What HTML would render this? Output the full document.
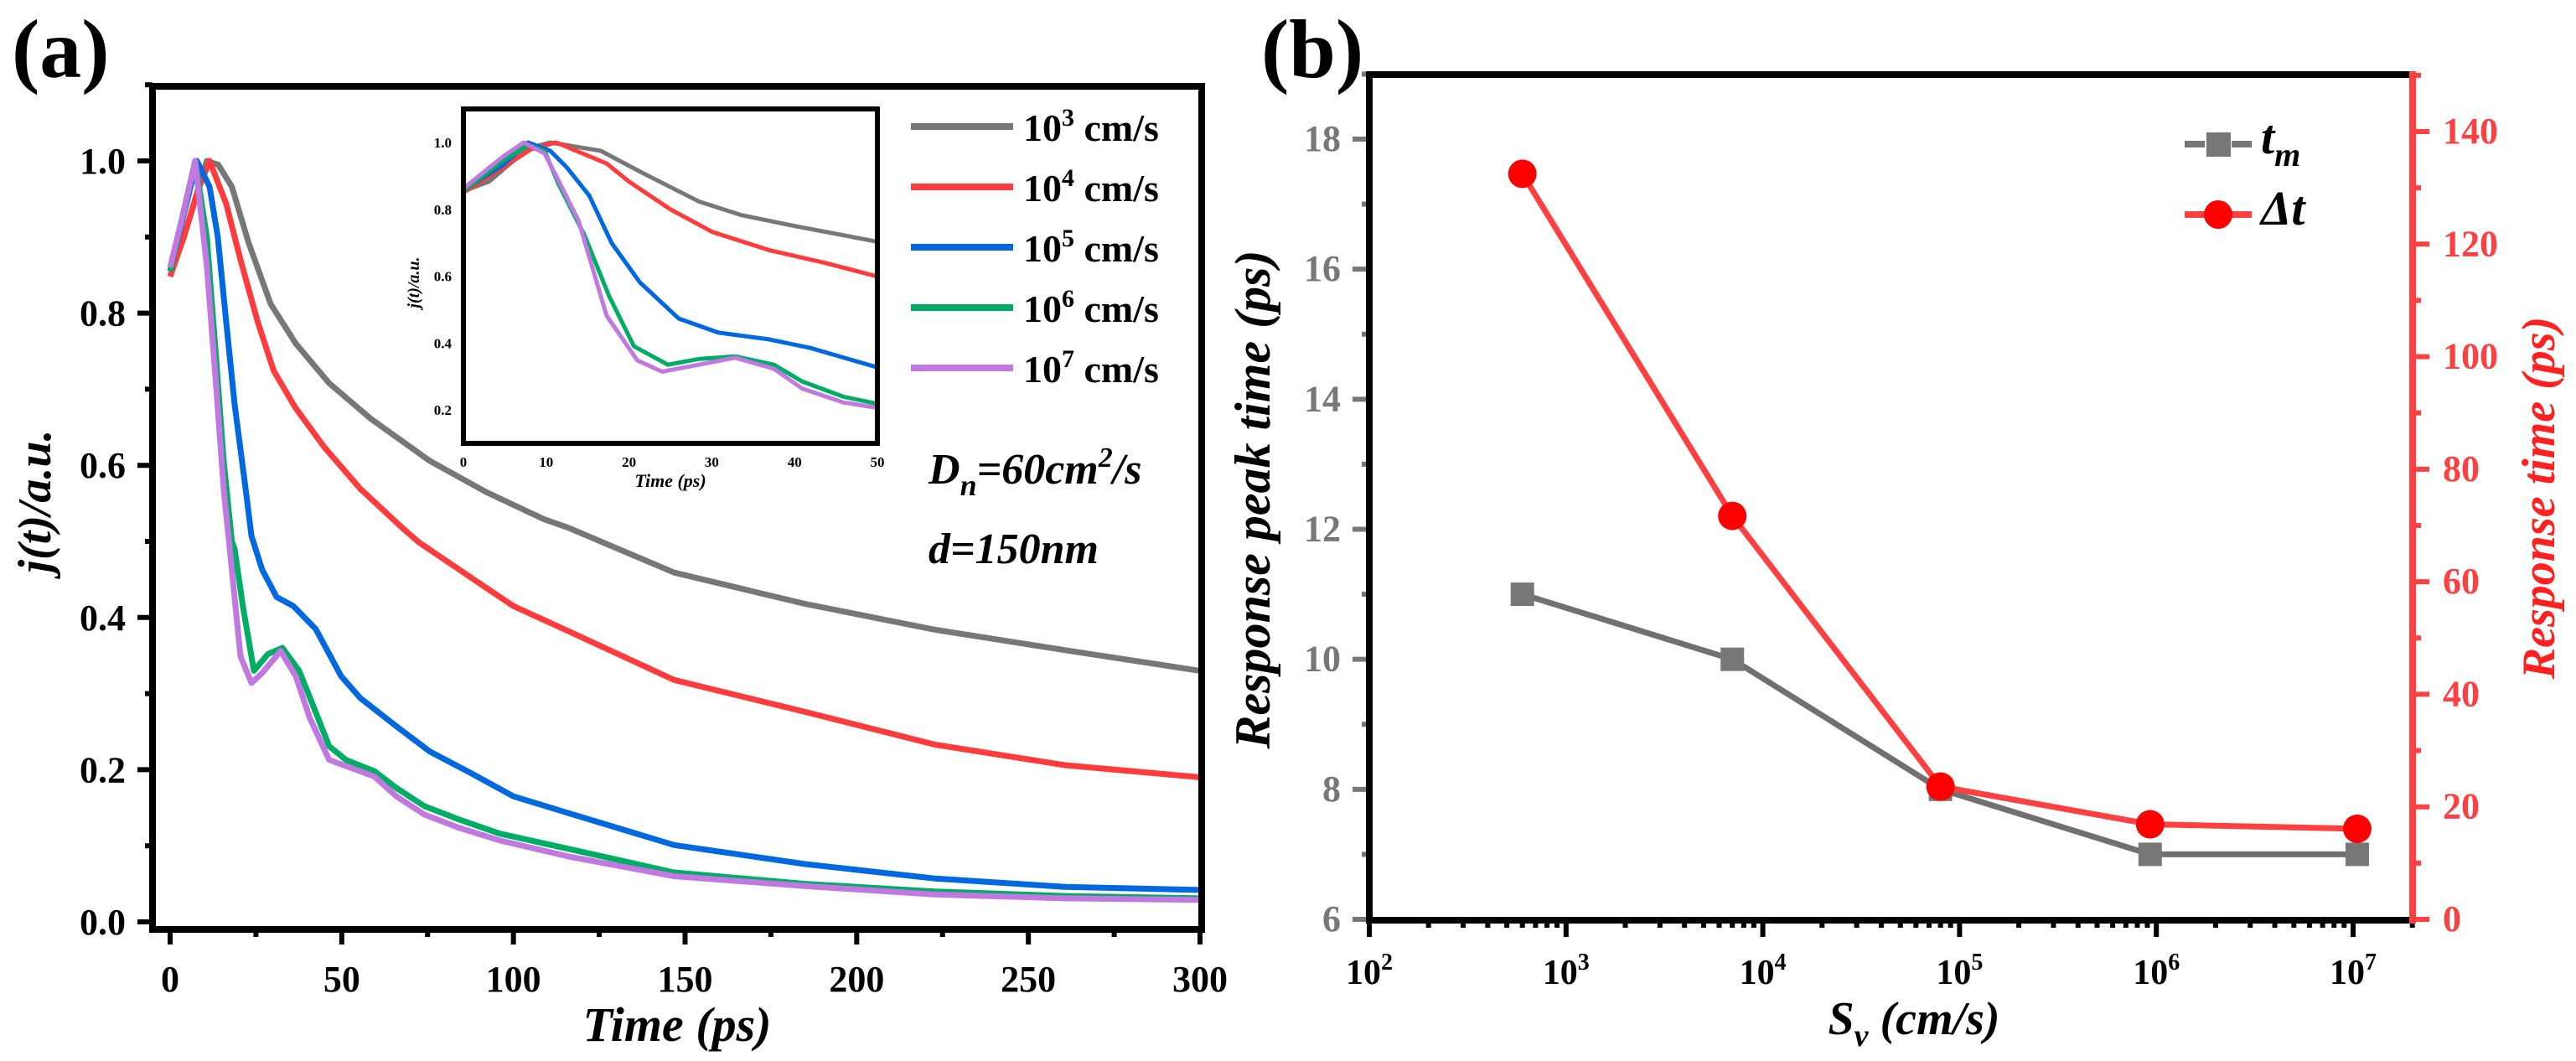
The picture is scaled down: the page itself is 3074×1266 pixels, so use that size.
<!DOCTYPE html>
<html><head><meta charset="utf-8"><style>
html,body{margin:0;padding:0;background:#fff;width:3074px;height:1266px;overflow:hidden}
svg{display:block}
text{font-family:"Liberation Serif","Times New Roman","DejaVu Serif",serif;font-weight:bold}
</style></head><body>
<svg id="fig" width="3074" height="1266" viewBox="0 0 3074 1266" xmlns="http://www.w3.org/2000/svg"></svg>
<script>
// ---------- Panel (a) data ----------
const seriesNames = ["3","4","5","6","7"];
const seriesColors = ["#777777","#ff3b3b","#0068e0","#00ad65","#c178e0"];
const grayT = [0,4,8,10.7,14,18,22.9,29.3,36.6,46.3,58.5,75.6,92,109,116,146.8,184.9,222.7,260.7,300];
const grayV = [0.86,0.9,0.96,1.0,0.995,0.966,0.892,0.812,0.76,0.708,0.661,0.606,0.565,0.529,0.518,0.459,0.418,0.384,0.357,0.33];
const redT = [0,4,8,11.5,16.3,20.5,25.4,30.2,36.6,44.9,55.4,67.6,72.4,87.8,100,116,146.8,184.9,222.7,260.7,300];
const redV = [0.848,0.9,0.96,1.0,0.944,0.87,0.79,0.724,0.675,0.624,0.569,0.518,0.499,0.452,0.415,0.382,0.318,0.276,0.233,0.206,0.19];
const blueT = [0,4,7.8,11.5,13.9,16.3,18.8,22,23.7,26.8,31,35.9,42.4,49.8,55.4,65.9,75.6,87.8,100,116,146.8,184.9,222.7,260.7,300];
const blueV = [0.855,0.93,1.0,0.966,0.9,0.79,0.68,0.569,0.507,0.463,0.427,0.415,0.385,0.323,0.294,0.257,0.224,0.195,0.165,0.143,0.101,0.076,0.057,0.046,0.042];
const greenT = [0,4,7.3,10.7,13.2,15.6,18,18.8,21.2,24.4,28.5,32.7,37.6,41.5,46.3,51.2,59.5,65.9,74.1,83.9,96,116,146.8,184.9,222.7,260.7,300];
const greenV = [0.855,0.935,1.0,0.9,0.752,0.606,0.5,0.49,0.415,0.33,0.352,0.36,0.33,0.286,0.231,0.213,0.198,0.176,0.152,0.135,0.116,0.096,0.065,0.05,0.04,0.034,0.031];
const purpleT = [0,4.1,7.3,10.7,13.2,15.6,17,20.5,23.7,26.8,32.2,36.6,40.7,46.3,52.9,59.5,65.9,74.1,83.9,96,116,146.8,184.9,222.7,260.7,300];
const purpleV = [0.86,0.936,1.0,0.862,0.716,0.569,0.507,0.349,0.314,0.327,0.356,0.323,0.268,0.213,0.202,0.191,0.165,0.141,0.124,0.107,0.086,0.06,0.047,0.036,0.031,0.029];
// inset data (0-50 ps)
const inGrayT = [0,3.1,7.8,10.5,16.6,21.7,28.4,33.5,40.2,50];
const inGrayV = [0.854,0.883,0.983,1.0,0.975,0.908,0.824,0.783,0.749,0.703];
const inRedT = [0,4.8,8.1,11.2,17.3,20,25,30.1,36.9,43.6,50];
const inRedV = [0.85,0.925,0.979,1.0,0.937,0.883,0.8,0.732,0.678,0.64,0.599];
const inBlueT = [0,4.8,7.8,10.5,12.5,15.2,17.9,21.3,26,30.8,36.9,41.9,50];
const inBlueV = [0.858,0.933,1.0,0.975,0.925,0.841,0.699,0.582,0.473,0.431,0.411,0.385,0.327];
const inGreenT = [0,4.8,7.8,9.8,11.5,14.6,17.6,20.6,24.7,28.4,32.8,37.5,40.9,45.9,50];
const inGreenV = [0.854,0.946,0.992,0.975,0.875,0.724,0.54,0.39,0.335,0.352,0.36,0.335,0.285,0.239,0.218];
const inPurpleT = [0,4.8,7.3,9.8,11.2,13.9,17.3,21,24,28.4,32.8,37.5,40.9,45.9,50];
const inPurpleV = [0.862,0.958,1.0,0.967,0.9,0.766,0.482,0.348,0.314,0.335,0.356,0.323,0.264,0.222,0.206];
const aXTicks = [0,50,100,150,200,250,300];
const aYTicks = ["0.0","0.2","0.4","0.6","0.8","1.0"];
const inXTicks = [0,10,20,30,40,50];
const inYTicks = ["0.2","0.4","0.6","0.8","1.0"];
// ---------- Panel (b) data ----------
const svValues = [600,7000,80000,930000,10500000];
const tmValues = [11,10,8,7,7];
const dtValues = [132.5,71.7,23.6,16.9,16.1];
const bLeftTicks = [6,8,10,12,14,16,18];
const bRightTicks = [0,20,40,60,80,100,120,140];
const bXExps = [2,3,4,5,6,7];

const NS="http://www.w3.org/2000/svg";
const svg=document.getElementById('fig');
function el(tag,attrs,parent){const e=document.createElementNS(NS,tag);for(const k in attrs)e.setAttribute(k,attrs[k]);(parent||svg).appendChild(e);return e;}
function txt(s,attrs,parent){const e=el('text',attrs,parent);e.textContent=s;return e;}

// ===== Panel a =====
const A={l:182,r:1434,t:103,b:1109};
const ax=t=>203+t*(1432-203)/300;
const ay=v=>1100-v*908;
const ga=el('g',{});

let lab=txt('(a)',{x:14,y:92,'font-size':100},ga);

aXTicks.forEach(t=>{
  const tk=el('line',{x1:ax(t),x2:ax(t),y1:A.b,y2:A.b+18,stroke:'#000','stroke-width':6},ga);
  
  const tl=txt(String(t),{x:ax(t),y:1183,'text-anchor':'middle','font-size':44},ga);
  
  if(t<300){const m=el('line',{x1:ax(t+25),x2:ax(t+25),y1:A.b,y2:A.b+9,stroke:'#000','stroke-width':6},ga);
  }
});
aYTicks.forEach(s=>{const v=parseFloat(s);
  const tk=el('line',{x1:A.l-18,x2:A.l,y1:ay(v),y2:ay(v),stroke:'#000','stroke-width':6},ga);
  
  const tl=txt(s,{x:150,y:ay(v)+15,'text-anchor':'end','font-size':44},ga);
  
  const m=el('line',{x1:A.l-9,x2:A.l,y1:ay(v+0.1),y2:ay(v+0.1),stroke:'#000','stroke-width':6},ga);
  
});
const aData=[[grayT,grayV],[redT,redV],[blueT,blueV],[greenT,greenV],[purpleT,purpleV]];
aData.forEach((d,i)=>{
  const p=d[0].map((t,k)=>(k?'L':'M')+ax(t).toFixed(1)+','+ay(d[1][k]).toFixed(1)).join('');
  const path=el('path',{d:p,fill:'none',stroke:seriesColors[i],'stroke-width':7,'stroke-linejoin':'round'},ga);
  
});
let fr=el('rect',{x:A.l,y:A.t,width:A.r-A.l,height:A.b-A.t,fill:'none',stroke:'#000','stroke-width':8},ga);

let tt=txt('Time (ps)',{x:808,y:1242,'text-anchor':'middle','font-size':58,'font-style':'italic'},ga);

let yt=txt('j(t)/a.u.',{x:0,y:0,transform:'translate(60,598) rotate(-90)','text-anchor':'middle','font-size':56,'font-style':'italic'},ga);

for(let i=0;i<5;i++){
  const y=151+i*72;
  const ln=el('line',{x1:1087,x2:1209,y1:y,y2:y,stroke:seriesColors[i],'stroke-width':8},ga);
  
  const t=txt('',{x:1221,y:y+17,'font-size':46},ga);
  
  const a=el('tspan',{},t);a.textContent='10';
  const b=el('tspan',{dy:-18,'font-size':30},t);b.textContent=seriesNames[i];
  const c=el('tspan',{dy:18},t);c.textContent=' cm/s';
}
let dn=txt('',{x:1108,y:577,'font-size':52,'font-style':'italic'},ga);

{const a=el('tspan',{},dn);a.textContent='D';const b=el('tspan',{dy:14,'font-size':36},dn);b.textContent='n';
 const c=el('tspan',{dy:-14},dn);c.textContent='=60cm';const d=el('tspan',{dy:-20,'font-size':34},dn);d.textContent='2';
 const e=el('tspan',{dy:20},dn);e.textContent='/s';}
let dd=txt('d=150nm',{x:1108,y:672,'font-size':52,'font-style':'italic'},ga);

const I={l:553,r:1047,t:130,b:529};
const ix=t=>553+t*(1047-553)/50;
const iy=v=>170+(1-v)*398.75;
const gi=el('g',{},ga);
el('rect',{x:I.l,y:I.t,width:I.r-I.l,height:I.b-I.t,fill:'#fff'},gi);
const iData=[[inGrayT,inGrayV],[inRedT,inRedV],[inBlueT,inBlueV],[inGreenT,inGreenV],[inPurpleT,inPurpleV]];
iData.forEach((d,i)=>{
  const p=d[0].map((t,k)=>(k?'L':'M')+ix(t).toFixed(1)+','+iy(d[1][k]).toFixed(1)).join('');
  const path=el('path',{d:p,fill:'none',stroke:seriesColors[i],'stroke-width':5,'stroke-linejoin':'round'},gi);
  
});
let ifr=el('rect',{x:I.l,y:I.t,width:I.r-I.l,height:I.b-I.t,fill:'none',stroke:'#000','stroke-width':6},gi);

inXTicks.forEach(t=>{const l=txt(String(t),{x:ix(t),y:557,'text-anchor':'middle','font-size':17},gi);
  });
inYTicks.forEach(s=>{const l=txt(s,{x:539,y:iy(parseFloat(s))+6,'text-anchor':'end','font-size':17},gi);
  });
let it=txt('Time (ps)',{x:800,y:581,'text-anchor':'middle','font-size':22,'font-style':'italic'},gi);

let iyt=txt('j(t)/a.u.',{x:0,y:0,transform:'translate(500,337) rotate(-90)','text-anchor':'middle','font-size':20,'font-style':'italic'},gi);


// ===== Panel b =====
const B={l:1634,r:2879,t:89,b:1098};
const bx=v=>1634+(Math.log10(v)-2)*234.8;
const byL=v=>1097-(v-6)*(1097-166)/12;
const byR=v=>1097-v*(1097-157)/140;
const gb=el('g',{});
let lb=txt('(b)',{x:1505,y:92,'font-size':100},gb);

bLeftTicks.forEach(v=>{
  const tk=el('line',{x1:B.l-20,x2:B.l,y1:byL(v),y2:byL(v),stroke:'#777','stroke-width':6},gb);
  
  const l=txt(String(v),{x:1600,y:byL(v)+14,'text-anchor':'end','font-size':44,fill:'#777'},gb);
  
  const m=el('line',{x1:B.l-9,x2:B.l,y1:byL(v+1),y2:byL(v+1),stroke:'#777','stroke-width':6},gb);
  
});
bRightTicks.forEach(v=>{
  const tk=el('line',{x1:B.r,x2:B.r+20,y1:byR(v),y2:byR(v),stroke:'#ff4040','stroke-width':6},gb);
  
  const l=txt(String(v),{x:2915,y:byR(v)+14,'font-size':44,fill:'#ff4040'},gb);
  
  const m=el('line',{x1:B.r,x2:B.r+10,y1:byR(v+10),y2:byR(v+10),stroke:'#ff4040','stroke-width':6},gb);
  
});
bXExps.forEach(e=>{
  const x=bx(Math.pow(10,e));
  const tk=el('line',{x1:x,x2:x,y1:B.b,y2:B.b+20,stroke:'#000','stroke-width':6},gb);
  
  const l=txt('',{x:x,y:1174,'text-anchor':'middle','font-size':42},gb);
  
  const a=el('tspan',{},l);a.textContent='10';const b=el('tspan',{dy:-17,'font-size':28},l);b.textContent=String(e);
  for(let k=2;k<=9;k++){const xv=bx(k*Math.pow(10,e));if(xv>B.r)break;
    const m=el('line',{x1:xv,x2:xv,y1:B.b,y2:B.b+9,stroke:'#000','stroke-width':6},gb);
    }
});
const tmPath=svValues.map((s,i)=>(i?'L':'M')+bx(s).toFixed(1)+','+byL(tmValues[i]).toFixed(1)).join('');
let tl=el('path',{d:tmPath,fill:'none',stroke:'#707070','stroke-width':7},gb);

svValues.forEach((s,i)=>{const m=el('rect',{x:bx(s)-14,y:byL(tmValues[i])-14,width:28,height:28,fill:'#777'},gb);
  });
const dtPath=svValues.map((s,i)=>(i?'L':'M')+bx(s).toFixed(1)+','+byR(dtValues[i]).toFixed(1)).join('');
let dl=el('path',{d:dtPath,fill:'none',stroke:'#ff4040','stroke-width':7},gb);

svValues.forEach((s,i)=>{const m=el('circle',{cx:bx(s),cy:byR(dtValues[i]),r:17,fill:'#ff0000'},gb);
  });
let bf=el('path',{d:`M${B.l},${B.b}V${B.t}H${B.r}`,fill:'none',stroke:'#000','stroke-width':8},gb);

let bb=el('line',{x1:B.l-4,x2:B.r,y1:B.b,y2:B.b,stroke:'#000','stroke-width':8},gb);

let br=el('line',{x1:B.r,x2:B.r,y1:B.t-4,y2:B.b+4,stroke:'#ff4040','stroke-width':8},gb);

let lg1=el('line',{x1:2607,x2:2687,y1:172,y2:172,stroke:'#777','stroke-width':8,'stroke-dasharray':'24 32'},gb);

let lm1=el('rect',{x:2633,y:158,width:29,height:29,fill:'#777'},gb);

let lt1=txt('',{x:2698,y:183,'font-size':58,'font-style':'italic'},gb);

{const a=el('tspan',{},lt1);a.textContent='t';const b=el('tspan',{dy:15,'font-size':40},lt1);b.textContent='m';}
let lg2=el('line',{x1:2607,x2:2687,y1:256,y2:256,stroke:'#ff4040','stroke-width':8,'stroke-dasharray':'24 32'},gb);

let lm2=el('circle',{cx:2647,cy:256,r:17,fill:'#ff0000'},gb);

let lt2=txt('Δt',{x:2698,y:268,'font-size':58,'font-style':'italic'},gb);

let sx=txt('',{x:2284,y:1234,'text-anchor':'middle','font-size':56,'font-style':'italic'},gb);

{const a=el('tspan',{},sx);a.textContent='S';const b=el('tspan',{dy:14,'font-size':38},sx);b.textContent='v';
 const c=el('tspan',{dy:-14},sx);c.textContent=' (cm/s)';}
let ly=txt('Response peak time (ps)',{x:0,y:0,transform:'translate(1515,596) rotate(-90)','text-anchor':'middle','font-size':60,'font-style':'italic'},gb);

let ry=txt('Response time (ps)',{x:0,y:0,transform:'translate(3048,594) rotate(-90)','text-anchor':'middle','font-size':56,'font-style':'italic',fill:'#ff2020'},gb);

</script>
</body></html>
